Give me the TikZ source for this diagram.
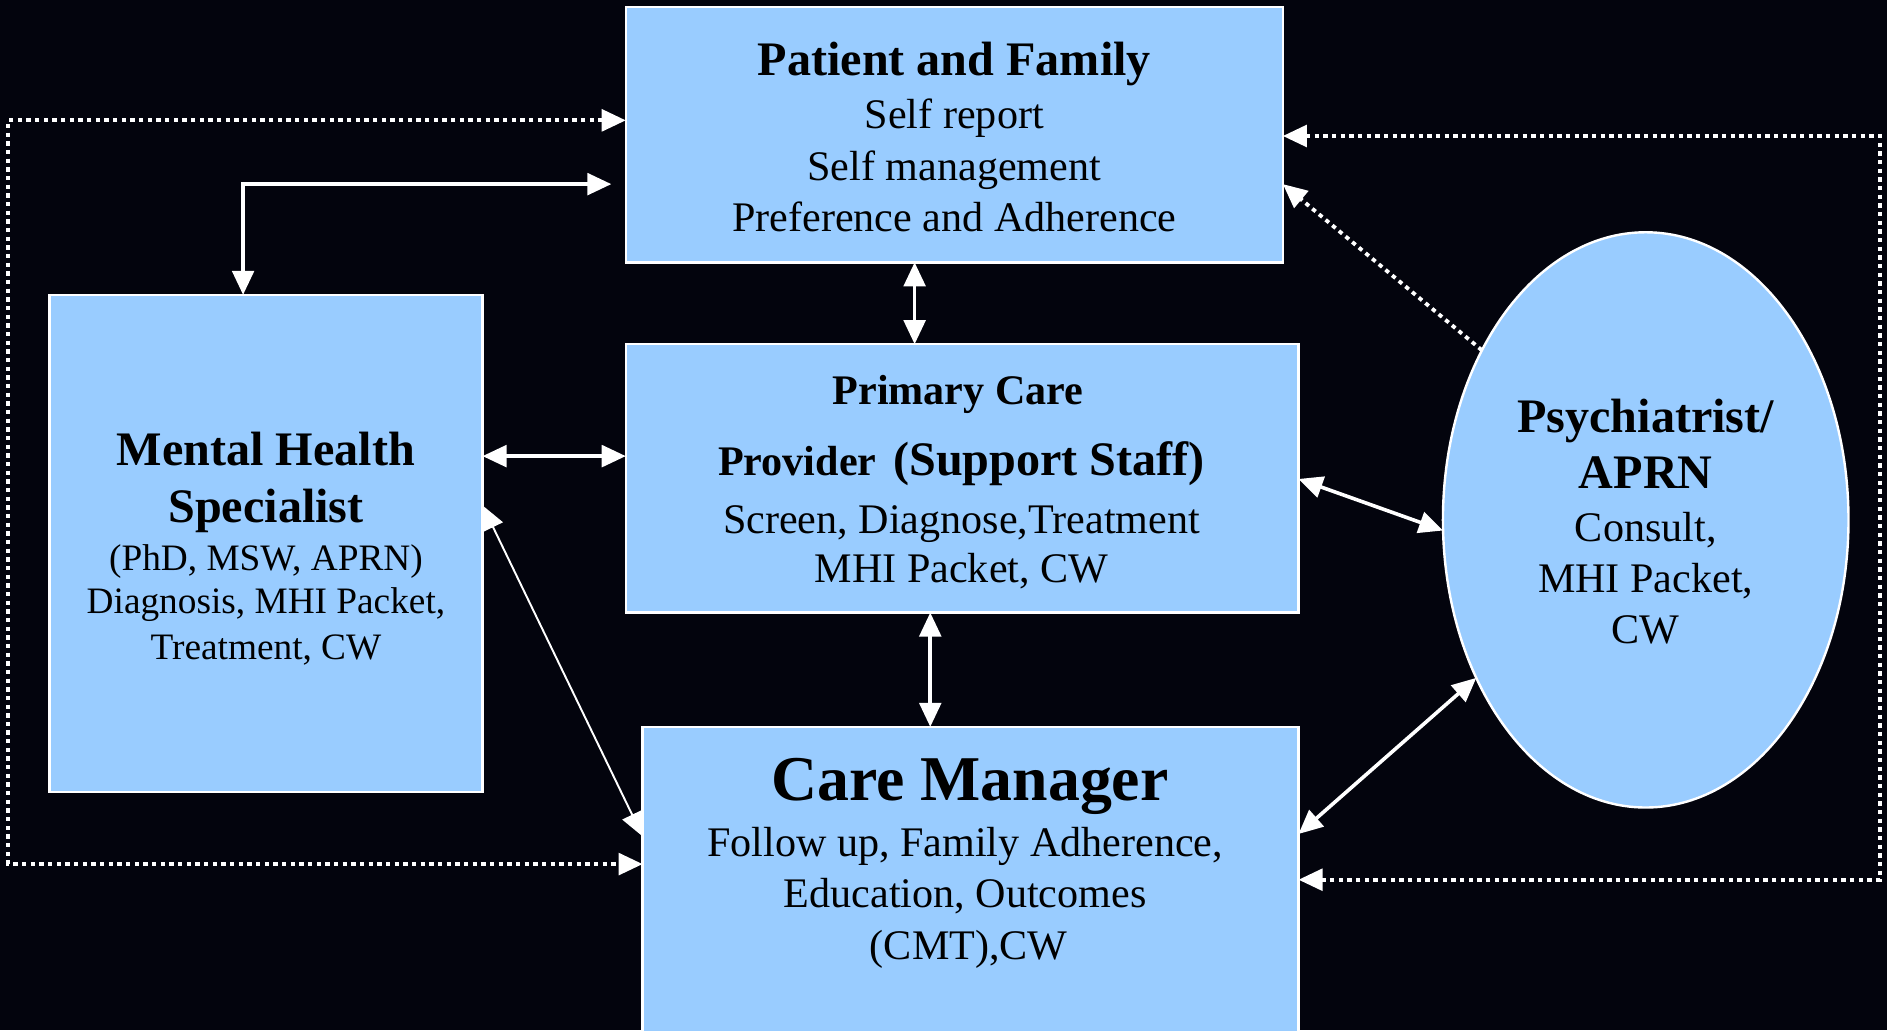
\documentclass[tikz,border=0pt]{standalone}
\usepackage{fontspec}
\setmainfont{Liberation Serif}
\usetikzlibrary{arrows.meta,shapes.geometric,calc}
\definecolor{bgc}{HTML}{03040D}
\definecolor{boxc}{HTML}{99CCFF}
\begin{document}
\begin{tikzpicture}[x=1pt,y=-1pt,
  box/.style={draw=white, line width=2pt, fill=boxc, rectangle, inner sep=0pt, outer sep=0pt},
  txt/.style={anchor=base, inner sep=0pt, text=black},
  tA/.style={txt, font=\fontsize{35pt}{42pt}\selectfont},
  tS/.style={txt, font=\fontsize{31pt}{37pt}\selectfont},
  bA/.style={txt, font=\fontsize{35pt}{42pt}\selectfont\bfseries},
  bB/.style={txt, font=\fontsize{40pt}{48pt}\selectfont\bfseries},
  bC/.style={txt, font=\fontsize{53pt}{62pt}\selectfont\bfseries},
  tip/.tip={Triangle[length=20pt,width=18pt]},
  link/.style={draw=white, line width=3pt, tip-tip},
  thinlink/.style={draw=white, line width=1.6pt, tip-tip},
  dotline/.style={draw=white, line width=3.2pt, dash pattern=on 3.6pt off 3.6pt}
]
\useasboundingbox (0,0) rectangle (1568,856);
\clip (0,0) rectangle (1568,856);
\fill[bgc] (0,0) rectangle (1568,856);

% boxes
\node[box, minimum width=546pt, minimum height=212pt] (pat) at (793,112) {};
\node[box, minimum width=360pt, minimum height=413pt] (mhs) at (221,451.5) {};
\node[box, minimum width=559pt, minimum height=223pt] (pcp) at (799.5,397.5) {};
\node[box, minimum width=545pt, minimum height=280pt] (cm) at (806.5,744) {};
\node[box, ellipse, minimum width=337pt, minimum height=478pt] (psy) at (1367.5,432) {};

% texts
\node[bB] (pat1) at (793,63) {Patient and Family};
\node[tA] (pat2) at (793,107) {Self report};
\node[tA] (pat3) at (793,150) {Self management};
\node[tA] (pat4) at (793,192) {Preference and Adherence};

\node[bB] (mhs1) at (221,387) {Mental Health};
\node[bB] (mhs2) at (221,434) {Specialist};
\node[tS] (mhs3) at (221,474) {(PhD, MSW, APRN)};
\node[tS] (mhs4) at (221,510) {Diagnosis, MHI Packet,};
\node[tS] (mhs5) at (221,548) {Treatment, CW};

\node[bA] (pcp1) at (796,336) {Primary Care};
\node[bA] (pcp2) at (799,395) {Provider\hspace{14pt}{\fontsize{40pt}{48pt}\selectfont (Support Staff)}};
\node[tA] (pcp3) at (799,443) {Screen, Diagnose,Treatment};
\node[tA] (pcp4) at (799,484) {MHI Packet, CW};

\node[bC] (cm1) at (806,665) {Care Manager};
\node[tA] (cm2) at (802,712) {Follow up, Family Adherence,};
\node[tA] (cm3) at (802,754) {Education, Outcomes};
\node[tA] (cm4) at (805,797) {(CMT),CW};

\node[bB] (psy1) at (1367.5,359) {Psychiatrist/};
\node[bB] (psy2) at (1367.5,406) {APRN};
\node[tA] (psy3) at (1367.5,450) {Consult,};
\node[tA] (psy4) at (1367.5,492.5) {MHI Packet,};
\node[tA] (psy5) at (1367.5,535) {CW};

% helper coordinates
\coordinate (lt) at (7,100);
\coordinate (lb) at (7,718);
\coordinate (rt) at (1562,113);
\coordinate (rb) at (1562,731);

% dotted connectors
\draw[dotline, tip-tip] (pat.west |- lt) -- (lt) -- (lb) -- (cm.west |- lb);
\draw[dotline, tip-tip] (pat.east |- rt) -- (rt) -- (rb) -- (cm.east |- rb);
\draw[dotline, -tip] (psy.134) -- (pat.east |- 0,153);

% solid connectors
\draw[link, shorten <=12pt] (pat.west |- 0,153) -| (mhs.north -| 202,0);
\draw[link] (pat.south -| 760,0) -- (pcp.north -| 760,0);
\draw[link] (mhs.east |- 0,379) -- (pcp.west |- 0,379);
\draw[thinlink] (mhs.east |- 0,420) -- (cm.west |- 0,695);
\draw[link] (pcp.south -| 773,0) -- (cm.north -| 773,0);
\draw[link] (pcp.east |- 0,398) -- (psy.183);
\draw[link] (psy.223) -- (cm.east |- 0,693);
\end{tikzpicture}
\end{document}
